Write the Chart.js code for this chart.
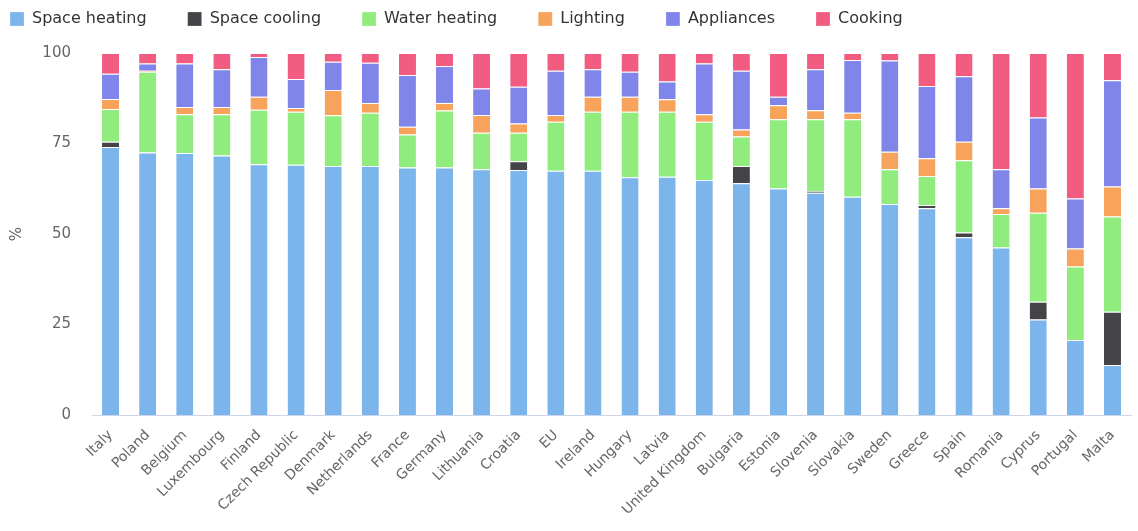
<!DOCTYPE html>
<html>
<head>
<meta charset="utf-8">
<script src="https://cdn.jsdelivr.net/npm/chart.js@4"></script>
<style>
  html, body { margin: 0; padding: 0; background: #fff; }
  #wrap { width: 1138px; height: 531px; position: relative; }
</style>
</head>
<body>
<div id="wrap"><canvas id="c"></canvas></div>
<script>
const categories = ["Italy","Poland","Belgium","Luxembourg","Finland","Czech Republic","Denmark","Netherlands","France","Germany","Lithuania","Croatia","EU","Ireland","Hungary","Latvia","United Kingdom","Bulgaria","Estonia","Slovenia","Slovakia","Sweden","Greece","Spain","Romania","Cyprus","Portugal","Malta"];
const spaceHeating = [74,72.5,72.4,71.7,69.3,69.1,68.8,68.8,68.4,68.4,67.9,67.7,67.5,67.5,65.7,65.8,64.9,64,62.6,61.4,60.3,58.3,57.1,49.1,46.3,26.4,20.7,13.8];
const spaceCooling = [1.5,0,0,0,0,0,0,0,0,0,0,2.4,0,0,0,0,0,4.8,0,0.5,0,0,0.9,1.3,0,4.9,0,14.7];
const waterHeating = [9,22.3,10.7,11.4,15,14.7,14,14.7,9.1,15.7,10.1,7.9,13.5,16.3,18.1,18,16.1,8.1,19.1,19.8,21.4,9.6,8,20,9.2,24.6,20.3,26.3];
const lighting = [2.8,0.3,2,2,3.6,1,7,2.7,2.1,2.1,4.9,2.5,1.9,4.1,4.1,3.4,2.1,2,3.9,2.5,1.8,4.8,4.9,5.1,1.6,6.7,5,8.3];
const appliances = [7,2,12,10.4,11,8,7.8,11.1,14.3,10.2,7.3,10.2,12.2,7.6,6.9,4.9,14,16.2,2.3,11.3,14.6,25.2,20,18.1,10.8,19.6,13.8,29.4];
const cooking = [5.7,2.9,2.9,4.5,1.1,7.2,2.4,2.7,6.1,3.6,9.8,9.3,4.9,4.5,5.2,7.9,2.9,4.9,12.1,4.5,1.9,2.1,9.1,6.4,32.1,17.8,40.2,7.5];
const yTicks = [0,25,50,75,100];

const seriesNames = ["Space heating","Space cooling","Water heating","Lighting","Appliances","Cooking"];
const seriesData = [spaceHeating, spaceCooling, waterHeating, lighting, appliances, cooking];
const seriesColors = ["#7cb5ec","#434348","#90ed7d","#f7a35c","#8085e9","#f15c80"];

const FONT = "'DejaVu Sans', 'Open Sans', sans-serif";

// Legend: wide horizontal gaps between items (padding 41), but keep the row near the top.
const legendTweak = {
  id: 'legendTweak',
  beforeInit(chart) {
    const lg = chart.legend;
    if (!lg) return;
    const origFit = lg.fit;
    lg.fit = function () { origFit.call(this); this.height = 53; };
    const origDraw = lg._draw;
    lg._draw = function () {
      const ctx = this.ctx;
      ctx.save();
      ctx.translate(-33, -30);
      origDraw.call(this);
      ctx.restore();
    };
  }
};

new Chart(document.getElementById('c'), {
  type: 'bar',
  data: {
    labels: categories,
    datasets: seriesNames.map((n, i) => ({
      label: n,
      data: seriesData[i],
      backgroundColor: seriesColors[i],
      borderColor: '#ffffff',
      borderWidth: {top: 1, bottom: 0, left: 0, right: 0},
      borderSkipped: false,
      categoryPercentage: 1,
      barPercentage: 0.46
    }))
  },
  plugins: [legendTweak],
  options: {
    responsive: true,
    maintainAspectRatio: false,
    animation: false,
    layout: { padding: { top: 0, left: 2, right: 7, bottom: 0 } },
    plugins: {
      legend: {
        position: 'top',
        align: 'start',
        labels: {
          boxWidth: 14,
          boxHeight: 14,
          padding: 41,
          color: '#333333',
          font: { family: FONT, size: 16 }
        }
      },
      tooltip: { enabled: false }
    },
    scales: {
      x: {
        stacked: true,
        grid: { display: false, drawTicks: false },
        border: { display: true, color: '#ccd6eb' },
        ticks: {
          color: '#666666',
          font: { family: FONT, size: 14 },
          minRotation: 45,
          maxRotation: 45,
          autoSkip: false,
          padding: 12
        },
        afterFit: (s) => { s.height = 116; }
      },
      y: {
        stacked: true,
        min: 0,
        max: 100,
        afterBuildTicks: (s) => { s.ticks = yTicks.map(v => ({ value: v })); },
        grid: { display: false, drawTicks: false },
        border: { display: false },
        title: {
          display: true,
          text: '%',
          color: '#666666',
          font: { family: FONT, size: 15 },
          padding: { top: 6, bottom: 0 }
        },
        ticks: {
          color: '#666666',
          font: { family: FONT, size: 15 },
          padding: 21
        },
        afterFit: (s) => { s.width = 90; }
      }
    }
  }
});
</script>
</body>
</html>
